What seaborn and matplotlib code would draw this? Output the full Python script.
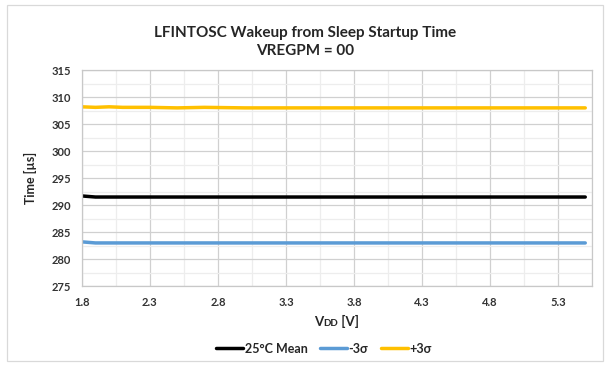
import numpy as np
import pandas as pd
import seaborn as sns
import matplotlib.pyplot as plt
from matplotlib.patches import Rectangle
from matplotlib.offsetbox import TextArea, HPacker, AnchoredOffsetbox
from matplotlib.ticker import MultipleLocator

# data
vdd = [1.8, 1.9, 2.0, 2.1, 2.2, 2.3, 2.5, 2.7, 3.0, 3.3, 3.6, 4.0, 4.5, 5.0, 5.5]
mean_25c = [291.7, 291.5, 291.5, 291.5, 291.5, 291.5, 291.5, 291.5, 291.5, 291.5, 291.5, 291.5, 291.5, 291.5, 291.5]
minus_3s = [283.2, 283.0, 283.0, 283.0, 283.0, 283.0, 283.0, 283.0, 283.0, 283.0, 283.0, 283.0, 283.0, 283.0, 283.0]
plus_3s = [308.2, 308.1, 308.2, 308.1, 308.1, 308.1, 308.0, 308.1, 308.0, 308.0, 308.0, 308.0, 308.0, 308.0, 308.0]
series_names = ['25°C Mean', '-3σ', '+3σ']
colors = ['#000000', '#5B9BD5', '#FFC000']
x_ticks = [1.8, 2.3, 2.8, 3.3, 3.8, 4.3, 4.8, 5.3]

df = pd.DataFrame({
    'vdd': vdd * 3,
    'time': mean_25c + minus_3s + plus_3s,
    'series': [series_names[0]] * len(vdd) + [series_names[1]] * len(vdd) + [series_names[2]] * len(vdd),
})

sns.set_style('white')
plt.rcParams['font.family'] = ['Lato', 'DejaVu Sans']
plt.rcParams['font.weight'] = 'bold'

fig = plt.figure(figsize=(6.11, 3.65), dpi=100)
ax = fig.add_axes([0.134, 0.216, 0.835, 0.592])

sns.lineplot(data=df, x='vdd', y='time', hue='series', palette=colors,
             hue_order=series_names, linewidth=2.5, ax=ax, legend=False)

ax.set_xlim(1.8, 5.5)
ax.set_ylim(275, 315)
ax.set_xticks(x_ticks)
ax.set_xticklabels([f'{v:.1f}' for v in x_ticks])
ax.set_xticks([v + 0.25 for v in x_ticks], minor=True)
ax.yaxis.set_major_locator(MultipleLocator(5))
ax.yaxis.set_minor_locator(MultipleLocator(2.5))
ax.grid(True, which='major', color='#D0D0D0', linewidth=0.9)
ax.grid(True, which='minor', color='#EDEDED', linewidth=0.9)
ax.set_axisbelow(True)
for s in ax.spines.values():
    s.set_color('#C8C8C8')
    s.set_linewidth(0.9)
ax.tick_params(axis='both', which='both', length=0, labelsize=8, pad=8)
for lab in ax.get_xticklabels() + ax.get_yticklabels():
    lab.set_fontweight('bold')
    lab.set_color('#333333')

ax.set_ylabel('Time [µs]', fontsize=9, fontweight='bold', labelpad=10)
ax.set_xlabel('')

# x label with small caps DD
xl = HPacker(children=[
    TextArea('V', textprops=dict(fontsize=9.5, fontweight='bold')),
    TextArea('DD', textprops=dict(fontsize=7, fontweight='bold')),
    TextArea(' [V]', textprops=dict(fontsize=9.5, fontweight='bold')),
], align='baseline', pad=0, sep=0)
anch = AnchoredOffsetbox(loc='center', child=xl, frameon=False,
                         bbox_to_anchor=(0.5, -0.165), bbox_transform=ax.transAxes)
ax.add_artist(anch)

fig.suptitle('LFINTOSC Wakeup from Sleep Startup Time\nVREGPM = 00',
             fontsize=11, fontweight='bold', y=0.93, linespacing=1.4)

handles = [plt.Line2D([0], [0], color=c, linewidth=2.5) for c in colors]
fig.legend(handles, series_names, loc='center', bbox_to_anchor=(0.53, 0.045),
           ncol=3, frameon=False, fontsize=9, handlelength=2.2,
           handletextpad=0.1, columnspacing=1.0)

fig.patches.append(Rectangle((0.012, 0.01), 0.975, 0.975, transform=fig.transFigure,
                             fill=False, edgecolor='#D9D9D9', linewidth=0.9))

fig.savefig('out.png', dpi=100)
